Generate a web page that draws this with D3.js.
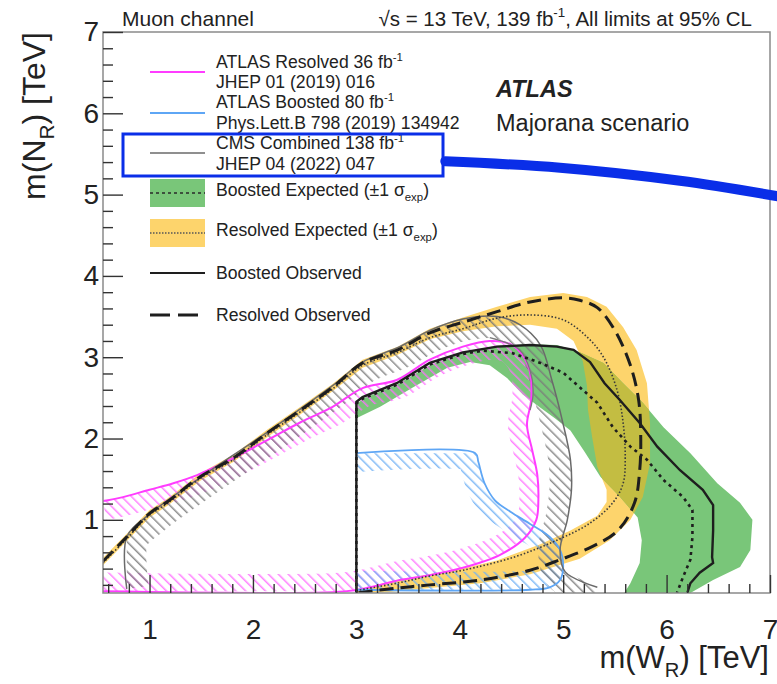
<!DOCTYPE html>
<html>
<head>
<meta charset="utf-8">
<script src="https://cdn.jsdelivr.net/npm/d3@7"></script>
<style>
body { margin: 0; background: #fff; }
text { font-family: "Liberation Sans", Arial, Helvetica, sans-serif; fill: #222; }
</style>
</head>
<body>
<div id="chart"></div>
<script>
// all points are [m(W_R), m(N_R)] in TeV

// resolved analysis
var resolvedObs = [[0.55,0.49],[0.78,0.79],[1.0,1.08],[1.17,1.22],[1.49,1.53],[1.81,1.76],[2.14,2.07],[2.46,2.35],[2.77,2.63],[3.06,2.93],[3.4,3.09],[3.71,3.3],[4.03,3.43],[4.36,3.56],[4.68,3.68],[5.0,3.73],[5.16,3.7],[5.33,3.61],[5.5,3.33],[5.65,2.9],[5.73,2.47],[5.75,2.02],[5.74,1.61],[5.69,1.21],[5.53,0.87],[5.28,0.67],[4.97,0.51],[4.68,0.38],[4.2,0.26],[3.71,0.2],[3.39,0.16],[3.0,0.1]];
var resolvedExp = [[0.55,0.47],[0.78,0.77],[1.0,1.06],[1.17,1.2],[1.49,1.51],[1.81,1.74],[2.14,2.05],[2.46,2.33],[2.77,2.61],[3.06,2.9],[3.4,3.06],[3.71,3.24],[4.03,3.35],[4.36,3.48],[4.68,3.52],[5.0,3.46],[5.23,3.25],[5.39,3.0],[5.52,2.6],[5.58,2.19],[5.6,1.77],[5.58,1.45],[5.48,1.21],[5.26,0.96],[4.94,0.75],[4.52,0.54],[4.03,0.38],[3.71,0.31],[3.39,0.22],[3.0,0.13]];
var resolvedBandOuter = [[0.55,0.53],[0.78,0.83],[1.0,1.12],[1.17,1.26],[1.49,1.57],[1.81,1.8],[2.14,2.11],[2.46,2.39],[2.77,2.67],[3.06,2.97],[3.4,3.13],[3.71,3.35],[4.03,3.49],[4.36,3.62],[4.68,3.74],[5.0,3.79],[5.23,3.74],[5.42,3.62],[5.58,3.37],[5.71,3.09],[5.81,2.68],[5.84,2.19],[5.84,1.7],[5.77,1.28],[5.65,1.0],[5.45,0.75],[5.16,0.52],[4.68,0.33],[4.2,0.22],[3.71,0.16],[3.3,0.11],[3.0,0.1]];
var resolvedBandInner = [[3.0,0.13],[3.39,0.26],[3.71,0.33],[4.03,0.4],[4.36,0.5],[4.78,0.7],[5.07,0.87],[5.33,1.05],[5.42,1.22],[5.42,1.37],[5.33,1.65],[5.28,2.02],[5.24,2.35],[5.23,2.65],[5.19,2.95],[5.1,3.2],[4.94,3.35],[4.68,3.4],[4.36,3.38],[4.03,3.32],[3.71,3.22],[3.4,3.03],[3.06,2.87],[2.77,2.58],[2.46,2.3],[2.14,2.02],[1.81,1.71],[1.49,1.48],[1.17,1.17],[1.0,1.03],[0.78,0.74],[0.55,0.44]];

// boosted analysis
var boostedObs = [[3.0,0.1],[3.0,2.45],[3.06,2.51],[3.39,2.68],[3.71,2.93],[4.03,3.06],[4.36,3.13],[4.68,3.15],[4.94,3.13],[5.1,3.09],[5.26,2.94],[5.4,2.68],[5.55,2.47],[5.74,2.19],[5.91,1.9],[6.13,1.61],[6.35,1.37],[6.45,1.18],[6.45,0.87],[6.44,0.54],[6.45,0.47],[6.32,0.35],[6.23,0.22],[6.2,0.1]];
var boostedExp = [[3.0,0.1],[3.0,2.43],[3.06,2.49],[3.39,2.66],[3.71,2.91],[4.03,3.04],[4.22,3.08],[4.51,3.05],[4.78,2.93],[5.0,2.81],[5.16,2.63],[5.33,2.44],[5.48,2.14],[5.65,1.9],[5.81,1.74],[5.97,1.49],[6.16,1.28],[6.25,1.12],[6.25,0.79],[6.23,0.51],[6.16,0.3],[6.1,0.1]];
var boostedBandOuter = [[3.0,2.41],[3.06,2.49],[3.39,2.66],[3.71,2.9],[4.03,3.06],[4.36,3.14],[4.68,3.16],[4.94,3.15],[5.16,3.06],[5.39,2.93],[5.58,2.68],[5.77,2.44],[5.97,2.14],[6.23,1.82],[6.49,1.45],[6.71,1.21],[6.83,1.0],[6.81,0.63],[6.71,0.42],[6.45,0.26],[6.23,0.1]];
var boostedBandInner = [[5.59,0.1],[5.65,0.22],[5.74,0.47],[5.76,0.75],[5.72,1.03],[5.55,1.28],[5.36,1.53],[5.21,1.83],[5.07,2.1],[4.92,2.25],[4.78,2.38],[4.61,2.54],[4.46,2.74],[4.29,2.9],[4.1,2.94],[3.88,2.87],[3.55,2.63],[3.23,2.39],[3.0,2.25]];

// earlier results
var atlasResolved36 = [[0.55,1.23],[0.71,1.27],[1.0,1.37],[1.23,1.45],[1.46,1.55],[1.78,1.74],[2.14,1.98],[2.46,2.2],[2.77,2.39],[3.06,2.62],[3.39,2.72],[3.71,2.97],[4.03,3.13],[4.29,3.2],[4.49,3.16],[4.62,3.0],[4.68,2.81],[4.69,2.47],[4.65,2.17],[4.7,1.86],[4.75,1.55],[4.76,1.24],[4.74,1.0],[4.63,0.78],[4.39,0.57],[4.03,0.41],[3.71,0.32],[3.42,0.26],[3.13,0.17],[2.89,0.12],[0.55,0.12]];
var atlasBoosted80 = [[3.0,1.82],[4.15,1.82],[4.18,1.71],[4.24,1.45],[4.34,1.24],[4.49,1.1],[4.68,0.95],[4.87,0.79],[4.97,0.63],[5.0,0.42],[4.97,0.26],[4.87,0.17],[4.68,0.14],[3.0,0.14]];
var cmsCombined138 = [[0.78,0.15],[0.78,0.79],[1.0,1.07],[1.49,1.52],[2.14,2.08],[2.77,2.65],[3.06,2.94],[3.42,3.13],[3.71,3.33],[4.03,3.47],[4.36,3.5],[4.58,3.4],[4.78,3.15],[4.89,2.72],[4.99,2.23],[5.07,1.74],[5.08,1.37],[5.04,1.0],[4.97,0.63],[5.02,0.36],[5.33,0.17]];
var cmsInnerEdge = [[4.29,3.24],[4.58,3.09],[4.68,2.84],[4.71,2.56],[4.68,2.35]];

// annotation stroke pointing at the CMS legend entry
var cmsPointer = [[3.86,5.41],[4.97,5.33],[6.13,5.17],[7.12,4.97]];

// axis ticks
var xTicks = [1, 2, 3, 4, 5, 6, 7];
var yTicks = [1, 2, 3, 4, 5, 6, 7];

var svgWidth = 777, svgHeight = 684;
var plotLeft = 103, plotRight = 770, plotTop = 32, plotBottom = 593;

var svg = d3.select("#chart").append("svg")
    .attr("width", svgWidth)
    .attr("height", svgHeight);

var x = d3.scaleLinear().domain([0.55, 7]).range([plotLeft, plotRight]);
var y = d3.scaleLinear().domain([0.1, 7]).range([plotBottom, plotTop]);

var defs = svg.append("defs");
defs.append("clipPath").attr("id", "plotClip")
    .append("rect").attr("x", plotLeft).attr("y", plotTop)
    .attr("width", plotRight - plotLeft).attr("height", plotBottom - plotTop);

// "\" hatch patterns
function hatch(id, color) {
    var p = defs.append("pattern").attr("id", id)
        .attr("patternUnits", "userSpaceOnUse")
        .attr("width", 7).attr("height", 7)
        .attr("patternTransform", "rotate(-45)");
    p.append("line").attr("x1", 0.8).attr("y1", 0).attr("x2", 0.8).attr("y2", 7)
        .attr("stroke", color).attr("stroke-width", 1.3);
}
hatch("hMag", "#ff6cff");
hatch("hBlue", "#6fb0f5");
hatch("hGray", "#7a7a7a");

var smooth = d3.line().x(d => x(d[0])).y(d => y(d[1])).curve(d3.curveCatmullRom.alpha(0.5));
var straight = d3.line().x(d => x(d[0])).y(d => y(d[1]));

function addClip(id, pts) {
    defs.append("clipPath").attr("id", id)
        .append("path").attr("d", straight(pts) + "Z");
}
addClip("cMag", atlasResolved36);
addClip("cBlue", atlasBoosted80);
addClip("cGray", cmsCombined138.concat([[5.33, 0.1], [0.78, 0.1]]));
addClip("cYellow", resolvedBandOuter.concat(resolvedBandInner));

var plot = svg.append("g").attr("clip-path", "url(#plotClip)");

// expected bands
var yellowPts = resolvedBandOuter.concat(resolvedBandInner);
var greenPts = boostedBandOuter.concat(boostedBandInner);

plot.append("path").attr("d", straight(yellowPts) + "Z").attr("fill", "#fdd46c");
plot.append("path").attr("d", straight(greenPts) + "Z").attr("fill", "#79c679");
plot.append("g").attr("clip-path", "url(#cYellow)")
    .append("path").attr("d", straight(greenPts) + "Z").attr("fill", "#c3bd42");

// hatched bands on the excluded side of earlier contours
function hatchBand(pts, clipId, patId, w) {
    plot.append("g").attr("clip-path", "url(#" + clipId + ")")
        .append("path").attr("d", smooth(pts))
        .attr("fill", "none").attr("stroke", "url(#" + patId + ")")
        .attr("stroke-width", 2 * w).attr("stroke-linejoin", "round");
}
hatchBand(atlasResolved36, "cMag", "hMag", 19);
hatchBand(atlasBoosted80, "cBlue", "hBlue", 19);
hatchBand(cmsCombined138, "cGray", "hGray", 22);

function drawLine(pts, gen, color, width, dash) {
    plot.append("path").attr("d", gen(pts))
        .attr("fill", "none").attr("stroke", color)
        .attr("stroke-width", width)
        .attr("stroke-dasharray", dash || null);
}
drawLine(atlasResolved36, smooth, "#ff3cff", 2);
drawLine(atlasBoosted80, smooth, "#5ea6f5", 1.8);
drawLine(cmsCombined138, smooth, "#6a6a6a", 1.5);
drawLine(cmsInnerEdge, smooth, "#7a7a7a", 1.3);
drawLine(resolvedExp, smooth, "#3a3a3a", 1.6, "1.5,2");
drawLine(boostedExp, straight, "#1e1e1e", 2.6, "3,4");
drawLine(boostedObs, straight, "#1e1e1e", 2.4);
drawLine(resolvedObs, smooth, "#1e1e1e", 3, "14,7");

// frame and ticks
var axes = svg.append("g");
axes.append("rect").attr("x", plotLeft).attr("y", plotTop)
    .attr("width", plotRight - plotLeft).attr("height", plotBottom - plotTop)
    .attr("fill", "none").attr("stroke", "#8a8a8a").attr("stroke-width", 1.5);

var xMinor = d3.range(0.6, 7.001, 0.2).filter(v => Math.abs(v - Math.round(v)) > 0.01);
var yMinor = d3.range(0.2, 7.001, 0.2).filter(v => Math.abs(v - Math.round(v)) > 0.01);

axes.append("g").attr("transform", `translate(0, ${plotBottom})`)
    .call(d3.axisBottom(x).tickValues(xTicks).tickSize(-18).tickPadding(26).tickFormat(d3.format("d")));
axes.append("g").attr("transform", `translate(0, ${plotBottom})`)
    .call(d3.axisBottom(x).tickValues(xMinor).tickSize(-9).tickFormat(""));
axes.append("g").attr("transform", `translate(${plotLeft}, 0)`)
    .call(d3.axisLeft(y).tickValues(yTicks).tickSize(-20).tickPadding(4).tickFormat(d3.format("d")));
axes.append("g").attr("transform", `translate(${plotLeft}, 0)`)
    .call(d3.axisLeft(y).tickValues(yMinor).tickSize(-10).tickFormat(""));

axes.selectAll(".domain").remove();
axes.selectAll(".tick line").attr("stroke", "#333").attr("stroke-width", 1.4);
axes.selectAll(".tick text").attr("font-size", 28).attr("fill", "#222")
    .style("font-family", "'Liberation Sans', Arial, sans-serif");

// text with sub/superscripts
function rich(g, px, py, parts, size, anchor) {
    var t = g.append("text").attr("x", px).attr("y", py)
        .attr("font-size", size).attr("text-anchor", anchor || "start");
    var off = 0;
    parts.forEach(function(p) {
        var s = t.append("tspan").text(p[0]);
        var target = p[1] === "sup" ? -0.42 * size : p[1] === "sub" ? 0.28 * size : 0;
        if (target !== off) s.attr("dy", target - off);
        if (p[1]) s.attr("font-size", size * 0.65);
        off = target;
    });
    return t;
}

// axis titles
rich(svg, 769, 668, [["m(W"], ["R", "sub"], [") [TeV]"]], 31, "end");
var yt = svg.append("g").attr("transform", "translate(45, 32) rotate(-90)");
rich(yt, 0, 0, [["m(N"], ["R", "sub"], [") [TeV]"]], 32, "end");

// header
rich(svg, 122, 26, [["Muon channel"]], 21);
rich(svg, 752, 26, [["\u221As = 13 TeV, 139 fb"], ["-1", "sup"], [", All limits at 95% CL"]], 20.5, "end");

svg.append("text").attr("x", 496).attr("y", 97).attr("font-size", 23.5)
    .attr("font-weight", "bold").attr("font-style", "italic").text("ATLAS");
svg.append("text").attr("x", 496).attr("y", 131).attr("font-size", 23.5).text("Majorana scenario");

// legend
var leg = svg.append("g");
var lx0 = 150, lx1 = 205, tx = 216, ls = 17.6;

function legLine(yy, color, width, dash) {
    leg.append("line").attr("x1", lx0).attr("x2", lx1).attr("y1", yy).attr("y2", yy)
        .attr("stroke", color).attr("stroke-width", width).attr("stroke-dasharray", dash || null);
}
function legBox(yy, fill, color, dash) {
    leg.append("rect").attr("x", lx0).attr("y", yy - 14).attr("width", lx1 - lx0).attr("height", 28)
        .attr("fill", fill);
    legLine(yy, color, 1.3, dash);
}

legLine(72, "#ff3cff", 2);
rich(leg, tx, 68, [["ATLAS Resolved 36 fb"], ["-1", "sup"]], ls);
rich(leg, tx, 88, [["JHEP 01 (2019) 016"]], ls);

legLine(113, "#5ea6f5", 2);
rich(leg, tx, 108, [["ATLAS Boosted 80 fb"], ["-1", "sup"]], ls);
rich(leg, tx, 129, [["Phys.Lett.B 798 (2019) 134942"]], ls);

legLine(153, "#6a6a6a", 1.5);
rich(leg, tx, 149, [["CMS Combined 138 fb"], ["-1", "sup"]], ls);
rich(leg, tx, 170, [["JHEP 04 (2022) 047"]], ls);

legBox(193, "#79c679", "#2a2a2a", "3,3");
rich(leg, tx, 196, [["Boosted Expected (\u00B11 \u03C3"], ["exp", "sub"], [")"]], ls);

legBox(233, "#fdd46c", "#555", "1.5,1.5");
rich(leg, tx, 236, [["Resolved Expected (\u00B11 \u03C3"], ["exp", "sub"], [")"]], ls);

legLine(273, "#1e1e1e", 2.2);
rich(leg, tx, 279, [["Boosted Observed"]], ls);

legLine(315, "#1e1e1e", 3, "20,8");
rich(leg, tx, 321, [["Resolved Observed"]], ls);

// highlight box and pointer
svg.append("rect").attr("x", 123).attr("y", 134).attr("width", 320).attr("height", 42)
    .attr("fill", "none").attr("stroke", "#0a2ee8").attr("stroke-width", 3);
svg.append("path").attr("d", smooth(cmsPointer))
    .attr("fill", "none").attr("stroke", "#0a2ee8")
    .attr("stroke-width", 10).attr("stroke-linecap", "round");
</script>
</body>
</html>
